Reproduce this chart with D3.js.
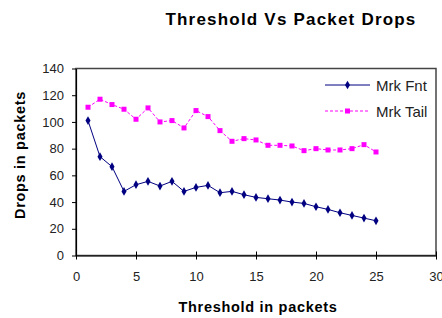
<!DOCTYPE html>
<html>
<head>
<meta charset="utf-8">
<script src="https://cdn.jsdelivr.net/npm/d3@7"></script>
<style>
  body { margin: 0; background: #fff; }
  svg { font-family: Arial, "Liberation Sans", sans-serif; }
</style>
</head>
<body>
<div id="chart"></div>
<script>
const thresholds = [1, 2, 3, 4, 5, 6, 7, 8, 9, 10, 11, 12, 13, 14, 15, 16, 17, 18, 19, 20, 21, 22, 23, 24, 25];
const mrkFnt = [101, 74, 66.5, 48, 53, 55.5, 52, 55.5, 48, 51, 52.5, 47, 48, 45.5, 43.5, 42.5, 41.5, 40, 39, 36.5, 34.5, 32, 30, 28, 26];
const mrkTail = [111, 117, 113, 109.5, 102, 110.5, 100, 101, 95.5, 108.5, 104, 93.5, 85.5, 87.5, 86.5, 82.5, 82.5, 82, 78.5, 80, 79, 79, 80, 83, 77.5];
const xTicks = [0, 5, 10, 15, 20, 25, 30];
const yTicks = [0, 20, 40, 60, 80, 100, 120, 140];

const width = 442, height = 318;
const margin = { top: 68.5, right: 6, bottom: 62.5, left: 76 };
const w = width - margin.left - margin.right;
const h = height - margin.top - margin.bottom;

const svg = d3.select('#chart').append('svg')
    .attr('width', width)
    .attr('height', height);

const x = d3.scaleLinear().domain([0, 30]).range([margin.left, margin.left + w]);
const y = d3.scaleLinear().domain([0, 140]).range([margin.top + h, margin.top]);

// plot frame
svg.append('rect')
    .attr('x', x(0)).attr('y', y(140))
    .attr('width', x(30) - x(0)).attr('height', y(0) - y(140))
    .attr('fill', 'none').attr('stroke', '#444').attr('stroke-width', 1.5);

const xAxis = svg.append('g')
    .attr('transform', `translate(0, ${y(0)})`)
    .call(d3.axisBottom(x).tickValues(xTicks).tickSize(4).tickPadding(12).tickSizeOuter(0));
const yAxis = svg.append('g')
    .attr('transform', `translate(${x(0)}, 0)`)
    .call(d3.axisLeft(y).tickValues(yTicks).tickSize(4).tickPadding(8).tickSizeOuter(0));

[xAxis, yAxis].forEach(g => {
    g.select('.domain').attr('stroke', '#000').attr('stroke-width', 1.2);
    g.selectAll('.tick line').attr('stroke', '#000');
    g.selectAll('.tick text').attr('font-size', 13).attr('fill', '#222')
        .attr('font-family', 'Arial, "Liberation Sans", sans-serif');
});
// x ticks point both up and down like the original
xAxis.selectAll('.tick line').attr('y1', -4).attr('y2', 4);
yAxis.selectAll('.tick line').attr('x1', -4).attr('x2', 0);

const line = d3.line().x((d, i) => x(thresholds[i])).y(d => y(d));

svg.append('path')
    .datum(mrkTail)
    .attr('d', line)
    .attr('fill', 'none')
    .attr('stroke', '#ff00ff')
    .attr('stroke-width', 1)
    .attr('stroke-dasharray', '3,2');

svg.selectAll('.tail')
    .data(mrkTail)
    .enter().append('rect')
    .attr('class', 'tail')
    .attr('x', (d, i) => x(thresholds[i]) - 2.5)
    .attr('y', d => y(d) - 2.5)
    .attr('width', 5).attr('height', 5)
    .attr('fill', '#ff00ff');

svg.append('path')
    .datum(mrkFnt)
    .attr('d', line)
    .attr('fill', 'none')
    .attr('stroke', '#000080')
    .attr('stroke-width', 1);

svg.selectAll('.fnt')
    .data(mrkFnt)
    .enter().append('path')
    .attr('class', 'fnt')
    .attr('d', d3.symbol().type(d3.symbolDiamond).size(22))
    .attr('transform', (d, i) => `translate(${x(thresholds[i])}, ${y(d)})`)
    .attr('fill', '#000080');

// legend
const legend = [
    { name: 'Mrk Fnt', color: '#000080', dash: null, y: 85 },
    { name: 'Mrk Tail', color: '#ff00ff', dash: '3,2', y: 111 }
];
legend.forEach(l => {
    svg.append('line')
        .attr('x1', 325).attr('x2', 370)
        .attr('y1', l.y).attr('y2', l.y)
        .attr('stroke', l.color).attr('stroke-width', 1)
        .attr('stroke-dasharray', l.dash);
    if (l.dash) {
        svg.append('rect').attr('x', 345).attr('y', l.y - 2.5)
            .attr('width', 5).attr('height', 5).attr('fill', l.color);
    } else {
        svg.append('path')
            .attr('d', d3.symbol().type(d3.symbolDiamond).size(22))
            .attr('transform', `translate(347.5, ${l.y})`)
            .attr('fill', l.color);
    }
    svg.append('text')
        .attr('x', 376).attr('y', l.y + 5.5)
        .attr('font-size', 15).attr('fill', '#222')
        .text(l.name);
});

// titles
svg.append('text')
    .attr('x', 291).attr('y', 24.5)
    .attr('text-anchor', 'middle')
    .attr('font-size', 17).attr('font-weight', 'bold')
    .attr('letter-spacing', 1.2)
    .text('Threshold Vs Packet Drops');

svg.append('text')
    .attr('x', 258).attr('y', 311.5)
    .attr('text-anchor', 'middle')
    .attr('font-size', 14.5).attr('font-weight', 'bold')
    .attr('letter-spacing', 0.7)
    .text('Threshold in packets');

svg.append('text')
    .attr('transform', 'translate(25, 155) rotate(-90)')
    .attr('text-anchor', 'middle')
    .attr('font-size', 14.5).attr('font-weight', 'bold')
    .attr('letter-spacing', 0.7)
    .text('Drops in packets');
</script>
</body>
</html>
